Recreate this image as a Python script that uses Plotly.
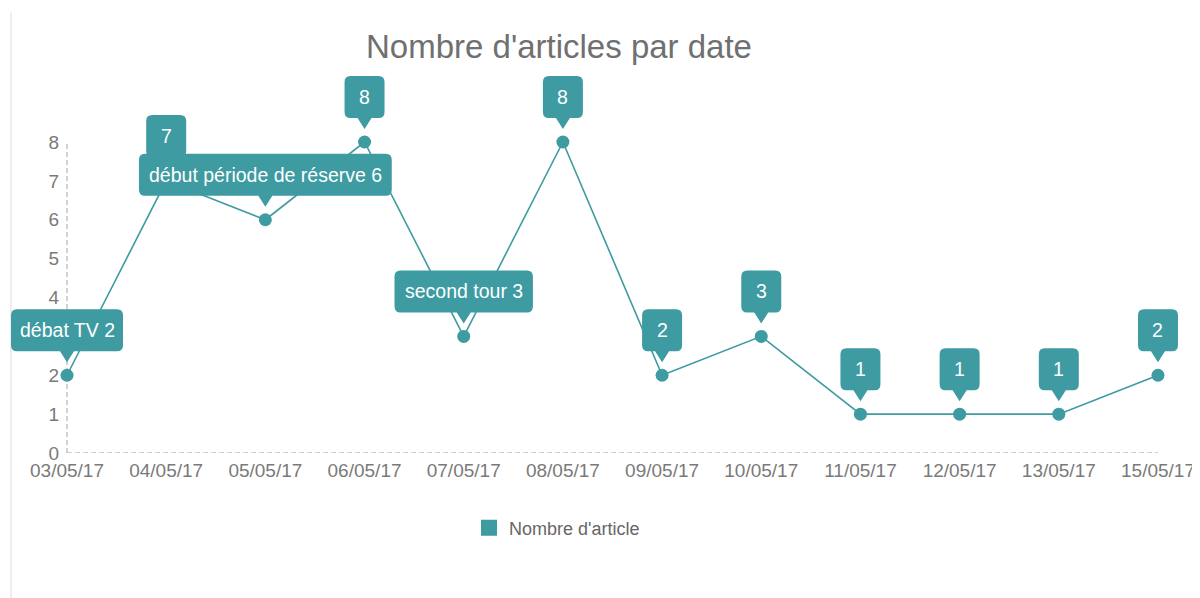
import plotly.graph_objects as go

# ---- data ----
dates = ["03/05/17", "04/05/17", "05/05/17", "06/05/17", "07/05/17", "08/05/17",
         "09/05/17", "10/05/17", "11/05/17", "12/05/17", "13/05/17", "15/05/17"]
counts = [2, 7, 6, 8, 3, 8, 2, 3, 1, 1, 1, 2]
events = ["débat TV", "", "début période de réserve", "", "second tour", "",
          "", "", "", "", "", ""]
y_ticks = [0, 1, 2, 3, 4, 5, 6, 7, 8]

series_name = "Nombre d'article"
title_text = "Nombre d'articles par date"

# ---- styles / layout geometry (figure pixels) ----
TEAL = "#3d9ba1"
FONT = "Liberation Sans, Arial, sans-serif"
LABEL_SIZE = 19.5
X0_PX = 59          # pixel of first category
STEP_PX = 99.18     # pixels between categories
Y0_PX = 445         # pixel of y = 0
UNIT_PX = 38.875    # pixels per y unit

fig = go.Figure()

fig.add_trace(go.Scatter(
    x=dates, y=counts, mode="lines+markers",
    line=dict(color=TEAL, width=1.6),
    marker=dict(color=TEAL, size=13),
    showlegend=False, cliponaxis=False, hoverinfo="x+y",
))
# legend entry (square symbol)
fig.add_trace(go.Scatter(
    x=[None], y=[None], mode="markers", name=series_name,
    marker=dict(color=TEAL, size=18, symbol="square"),
))

shapes = []
annotations = []

# dashed axis lines
shapes.append(dict(type="line", xref="x", yref="y", x0=dates[0], x1=dates[0],
                   y0=y_ticks[0], y1=y_ticks[-1], layer="below",
                   line=dict(color="#c4c4c4", width=1.5, dash="5px,3px")))
shapes.append(dict(type="line", xref="x", yref="y", x0=dates[0], x1=dates[-1],
                   y0=y_ticks[0], y1=y_ticks[0], layer="below",
                   line=dict(color="#c4c4c4", width=1.5, dash="5px,3px")))
# left border line of the chart container
shapes.append(dict(type="line", xref="paper", yref="paper", x0=3 / 1200, x1=3 / 1200,
                   y0=-0.4, y1=0.99, layer="below",
                   line=dict(color="#e2e2e2", width=1.2)))

# callout labels
BOT, TOP, TIP, HALF, R = 24, 66, 13, 7, 6
for d, v, ev in zip(dates, counts, events):
    text = f"{ev} {v}" if ev else f"{v}"
    w = max(40.0, 8.8 * len(text) + 24)
    hw = w / 2
    path = (f"M {-HALF},{BOT} L 0,{TIP} L {HALF},{BOT} "
            f"L {hw - R},{BOT} Q {hw},{BOT} {hw},{BOT + R} "
            f"L {hw},{TOP - R} Q {hw},{TOP} {hw - R},{TOP} "
            f"L {-hw + R},{TOP} Q {-hw},{TOP} {-hw},{TOP - R} "
            f"L {-hw},{BOT + R} Q {-hw},{BOT} {-hw + R},{BOT} Z")
    shapes.append(dict(type="path", xref="x", yref="y",
                       xsizemode="pixel", ysizemode="pixel",
                       xanchor=d, yanchor=v, path=path,
                       fillcolor=TEAL, line=dict(width=0), layer="above"))
    annotations.append(dict(x=d, y=v, xref="x", yref="y", text=text,
                            showarrow=False, yshift=(BOT + TOP) / 2,
                            font=dict(color="#ffffff", size=LABEL_SIZE, family=FONT)))

fig.update_layout(
    width=1200, height=598,
    margin=dict(l=0, r=0, t=0, b=598 - Y0_PX),
    paper_bgcolor="white", plot_bgcolor="white",
    font=dict(family=FONT, color="#777777"),
    title=dict(text=title_text, x=551 / 1200, xanchor="center",
               y=1 - 38 / 598, yanchor="middle", xref="container", yref="container",
               font=dict(size=33, color="#707070", family=FONT)),
    xaxis=dict(type="category", categoryorder="array", categoryarray=dates,
               range=[-X0_PX / STEP_PX, (1200 - X0_PX) / STEP_PX],
               showgrid=False, zeroline=False, showline=False, ticks="",
               tickfont=dict(size=19, color="#7a7a7a"), ticklabelstandoff=4),
    yaxis=dict(range=[0, Y0_PX / UNIT_PX], tickvals=y_ticks,
               anchor="free", position=X0_PX / 1200,
               showgrid=False, zeroline=False, showline=False, ticks="",
               tickfont=dict(size=19, color="#7a7a7a"), ticklabelstandoff=8),
    showlegend=True,
    legend=dict(orientation="h", x=461 / 1200, xanchor="left",
                y=(Y0_PX - 520) / Y0_PX, yanchor="middle",
                font=dict(size=18, color="#666666"), bgcolor="rgba(0,0,0,0)"),
    shapes=shapes, annotations=annotations,
)

fig.write_html("out.html")
